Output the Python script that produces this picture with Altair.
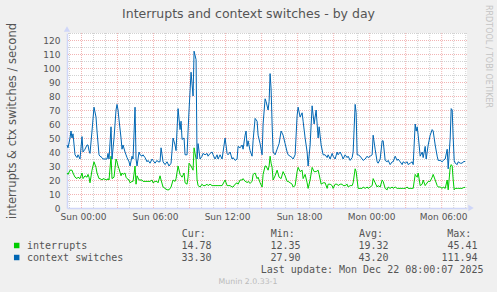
import altair as alt
import pandas as pd

# minutes relative to Sun 2025-12-21 00:00
minutes = [
    -70, -65, -55, -50, -45, -40, -30, -20, -15, -5,
    5, 10, 20, 30, 35, 40, 45, 55, 65, 75,
    80, 90, 95, 105, 110, 130, 135, 140, 150, 155,
    165, 175, 180, 185, 190, 200, 205, 210, 220, 225,
    230, 240, 245, 255, 260, 270, 275, 280, 290, 295,
    305, 310, 320, 330, 335, 345, 355, 360, 370, 380,
    385, 395, 400, 410, 420, 430, 440, 450, 460, 470,
    475, 485, 495, 500, 505, 515, 520, 530, 535, 540,
    550, 560, 565, 575, 580, 585, 595, 605, 610, 620,
    630, 635, 645, 655, 660, 670, 680, 685, 695, 705,
    720, 730, 735, 745, 755, 760, 770, 780, 785, 795,
    805, 810, 820, 825, 830, 835, 845, 855, 860, 870,
    880, 885, 895, 905, 910, 920, 925, 935, 940, 945,
    950, 955, 960, 970, 980, 990, 1000, 1010, 1020, 1030,
    1035, 1045, 1055, 1060, 1070, 1080, 1085, 1095, 1105, 1110,
    1120, 1130, 1135, 1145, 1155, 1165, 1175, 1185, 1190, 1200,
    1210, 1220, 1230, 1235, 1245, 1255, 1260, 1270, 1280, 1285,
    1295, 1305, 1310, 1320, 1330, 1335, 1345, 1355, 1360, 1370,
    1375, 1380, 1385, 1395, 1405, 1410, 1420, 1430, 1435, 1445,
    1455, 1460, 1470, 1480, 1485, 1495, 1505, 1510, 1520, 1530,
    1535, 1545, 1555, 1560, 1570, 1580, 1585, 1595, 1605, 1610,
    1620, 1630, 1635, 1645, 1655, 1660, 1670, 1675, 1680, 1685,
    1695, 1705, 1710, 1720, 1725, 1735, 1745, 1755, 1760, 1770,
    1780, 1785, 1795, 1805, 1810, 1820, 1830, 1835, 1845, 1850,
    1855, 1860, 1865, 1870, 1880, 1885, 1895, 1905, 1910, 1920,
]

context_switches = [
    45, 43, 50, 55, 50, 53, 38, 36, 38, 35,
    51, 40, 42, 45, 45, 41, 39, 55, 72, 65,
    55, 38, 37, 36, 35, 35, 39, 35, 58, 35,
    50, 70, 74, 70, 63, 50, 42, 45, 40, 38,
    36, 33, 30, 37, 35, 72, 35, 30, 40, 38,
    37, 38, 36, 33, 34, 32, 35, 34, 32, 34,
    33, 33, 43, 33, 31, 33, 30, 32, 50, 45,
    41, 71, 56, 62, 49, 50, 38, 38, 55, 70,
    97, 80, 112, 106, 35, 46, 35, 37, 39, 38,
    39, 37, 39, 40, 38, 35, 38, 35, 38, 35,
    50, 39, 38, 40, 35, 36, 34, 35, 44, 43,
    45, 42, 52, 55, 44, 48, 41, 37, 48, 64,
    62, 52, 46, 38, 60, 78, 76, 70, 76, 96,
    85, 60, 40, 38, 42, 46, 55, 52, 46, 40,
    38, 37, 36, 35, 38, 66, 72, 65, 68, 62,
    50, 40, 30, 45, 73, 60, 70, 50, 58, 45,
    38, 38, 36, 38, 35, 39, 37, 35, 40, 38,
    40, 37, 35, 38, 36, 37, 34, 36, 40, 74,
    68, 38, 38, 37, 35, 34, 35, 37, 36, 37,
    38, 52, 42, 33, 32, 35, 48, 48, 34, 33,
    34, 31, 33, 33, 37, 34, 35, 33, 31, 33,
    32, 33, 31, 32, 33, 31, 60, 55, 58, 52,
    37, 40, 36, 44, 35, 45, 52, 56, 55, 45,
    37, 34, 34, 33, 34, 35, 42, 28, 50, 71,
    70, 50, 34, 32, 31, 33, 32, 32, 33, 33.3,
]

interrupts = [
    25, 24, 27, 27, 27, 25, 22, 21, 22, 21,
    25, 21, 23, 22, 24, 22, 18, 27, 33, 29,
    25, 21, 21, 20, 21, 20, 21, 20, 37, 21,
    22, 35, 33, 30, 28, 23, 25, 24, 25, 22,
    21, 20, 18, 19, 19, 30, 17, 23, 20, 20,
    20, 19, 19, 19, 19, 19, 20, 18, 19, 19,
    18, 23, 20, 15, 14, 13, 13, 15, 20, 19,
    21, 30, 24, 23, 22, 25, 18, 17, 22, 32,
    30, 27, 43, 35, 20, 16, 15, 17, 16, 16,
    17, 16, 17, 16, 16, 16, 16, 16, 16, 16,
    20, 16, 16, 16, 15, 15, 17, 18, 17, 20,
    20, 21, 19, 19, 18, 19, 17.6, 19, 24, 25,
    21, 22, 18, 15, 24, 30, 30, 27, 30, 37,
    32, 29, 20, 23, 27, 22, 21, 26, 23, 19,
    19, 18, 17, 15, 16, 26, 29, 26, 27, 21,
    24, 18, 14, 20, 29, 26, 26, 27, 24, 17,
    18, 18, 14, 17, 17, 16, 14, 17, 17, 16,
    17, 17, 16, 16, 17, 15, 16, 16, 18, 28,
    26, 20, 14, 14, 14, 15, 14, 15, 14, 15,
    16, 21, 18, 15, 16, 15, 20, 19, 14, 13,
    15, 14, 15, 14, 15, 14, 14, 14, 14, 14,
    14, 15, 14, 14, 14, 14, 24, 23, 22, 25,
    16, 17, 20, 16, 17, 19, 19, 22, 24, 20,
    16, 15, 15, 14, 15, 14, 20, 13, 29, 31,
    30, 20, 13, 14, 14, 14, 14, 14, 14.5, 14.78,
]

series_names = ["interrupts", "context switches"]
series_colors = ["#00CC00", "#0066B3"]
cur_vals = ["14.78", "33.30"]
min_vals = ["12.35", "27.90"]
avg_vals = ["19.32", "43.20"]
max_vals = ["45.41", "111.94"]
y_ticks = [0, 10, 20, 30, 40, 50, 60, 70, 80, 90, 100, 110, 120]
y_minor = [5, 15, 25, 35, 45, 55, 65, 75, 85, 95, 105, 115, 125]
label_hours = [0, 6, 12, 18, 24, 30]
grid_hours = list(range(-1, 33))

base = pd.Timestamp("2025-12-21 00:00:00")
df = pd.DataFrame({
    "time": [base + pd.Timedelta(minutes=m) for m in minutes],
    "interrupts": interrupts,
    "context switches": context_switches,
})
long = df.melt("time", var_name="series", value_name="value")

W, H = 400, 175
OX, OY = 67, 33
FONT = "#555555"

def dt(h):
    t = base + pd.Timedelta(hours=h)
    return alt.DateTime(year=t.year, month=t.month, date=t.day, hours=t.hour, minutes=t.minute)

x_scale = alt.Scale(domain=[dt(-70 / 60), dt(1930 / 60)])
y_scale = alt.Scale(domain=[0, 125], nice=False, zero=True)

x_axis = alt.Axis(values=[dt(h) for h in label_hours], format="%a %H:%M", title=None,
                  labelPadding=4, labelOffset=2, ticks=False, grid=False, labelFlush=False)
y_axis = alt.Axis(values=y_ticks, title="interrupts & ctx switches / second", ticks=False, grid=False,
                  labelPadding=7, titleX=15 - OX, titleY=H / 2, titleAngle=-90,
                  titleBaseline="alphabetic", titleAlign="center", titleFontSize=11.5,
                  titleFontWeight="normal", titleColor=FONT, titleFont="DejaVu Sans")

gx = pd.DataFrame({"time": [base + pd.Timedelta(hours=h) for h in grid_hours],
                   "major": [h % 3 == 0 for h in grid_hours]})
MINOR_C = "#D2D2D2"
MAJOR_C = "#F2B4B4"
minor_x = alt.Chart(gx[~gx.major]).mark_rule(color=MINOR_C, strokeDash=[1, 1], strokeWidth=1, xOffset=0.5).encode(
    x=alt.X("time:T", scale=x_scale, axis=x_axis))
major_x = alt.Chart(gx[gx.major]).mark_rule(color=MAJOR_C, strokeDash=[1, 1], strokeWidth=1, xOffset=0.5).encode(
    x=alt.X("time:T", scale=x_scale, axis=x_axis))
minor_y = alt.Chart(pd.DataFrame({"value": y_minor})).mark_rule(color=MINOR_C, strokeDash=[1, 1], strokeWidth=1, yOffset=0.5).encode(
    y=alt.Y("value:Q", scale=y_scale, axis=y_axis))
major_y = alt.Chart(pd.DataFrame({"value": y_ticks[1:]})).mark_rule(color=MAJOR_C, strokeDash=[1, 1], strokeWidth=1, yOffset=0.5).encode(
    y=alt.Y("value:Q", scale=y_scale, axis=y_axis))

lines = alt.Chart(long).mark_line(strokeWidth=1).encode(
    x=alt.X("time:T", scale=x_scale, axis=x_axis),
    y=alt.Y("value:Q", scale=y_scale, axis=y_axis),
    color=alt.Color("series:N", scale=alt.Scale(domain=series_names, range=series_colors), legend=None),
)

one = pd.DataFrame({"k": [0]})
arrow_up = alt.Chart(one).mark_point(shape="triangle-up", filled=True, size=40, color="#CFD6F8", opacity=1).encode(
    x=alt.value(0), y=alt.value(-4))
arrow_right = alt.Chart(one).mark_point(shape="triangle-right", filled=True, size=40, color="#CFD6F8", opacity=1).encode(
    x=alt.value(W + 4), y=alt.value(H))

def txt(s, x, y, size=10, color=FONT, align="left", font="DejaVu Sans Mono", angle=0, baseline="alphabetic"):
    return alt.Chart(pd.DataFrame({"t": [s]})).mark_text(
        align=align, baseline=baseline, font=font, fontSize=size, color=color, angle=angle).encode(
        x=alt.value(x - OX), y=alt.value(y - OY), text="t:N")

texts = [
    txt("Interrupts and context switches - by day", 248.5, 18, size=12.5, align="center", font="DejaVu Sans"),
    txt("RRDTOOL / TOBI OETIKER", 488, 56.5, size=8, color="#C4C4C4", align="center", font="DejaVu Sans",
        angle=90, baseline="middle"),
    txt("Cur:", 181.7, 237), txt("Min:", 270.7, 237), txt("Avg:", 359, 237), txt("Max:", 447.3, 237),
    txt("Last update: Mon Dec 22 08:00:07 2025", 483.5, 273, align="right"),
    txt("Munin 2.0.33-1", 248, 284, size=7.8, color="#BBBBBB", align="center", font="DejaVu Sans"),
]
row_y = [248.5, 260.5]
for i in range(2):
    y = row_y[i]
    texts.append(txt(series_names[i], 27, y))
    texts.append(txt(cur_vals[i], 211.5, y, align="right"))
    texts.append(txt(min_vals[i], 300.5, y, align="right"))
    texts.append(txt(avg_vals[i], 388.5, y, align="right"))
    texts.append(txt(max_vals[i], 477.5, y, align="right"))
    texts.append(alt.Chart(one).mark_square(size=30, color=series_colors[i], opacity=1).encode(
        x=alt.value(16.7 - OX), y=alt.value(y - 3 - OY)))

chart = alt.layer(minor_x, minor_y, major_x, major_y, lines, arrow_up, arrow_right, *texts).properties(
    width=W, height=H,
    padding={"left": OX, "top": OY, "right": 497 - OX - W, "bottom": 292 - OY - H},
    autosize=alt.AutoSizeParams(type="none"),
    background="#F0F0F0",
).configure_view(fill="white", stroke=None).configure_axis(
    labelFont="DejaVu Sans", labelFontSize=9, labelColor=FONT,
    domainColor="#CFD6F8", domainWidth=1.5,
)

chart.save("out.html", embed_options={"renderer": "svg", "actions": False})
